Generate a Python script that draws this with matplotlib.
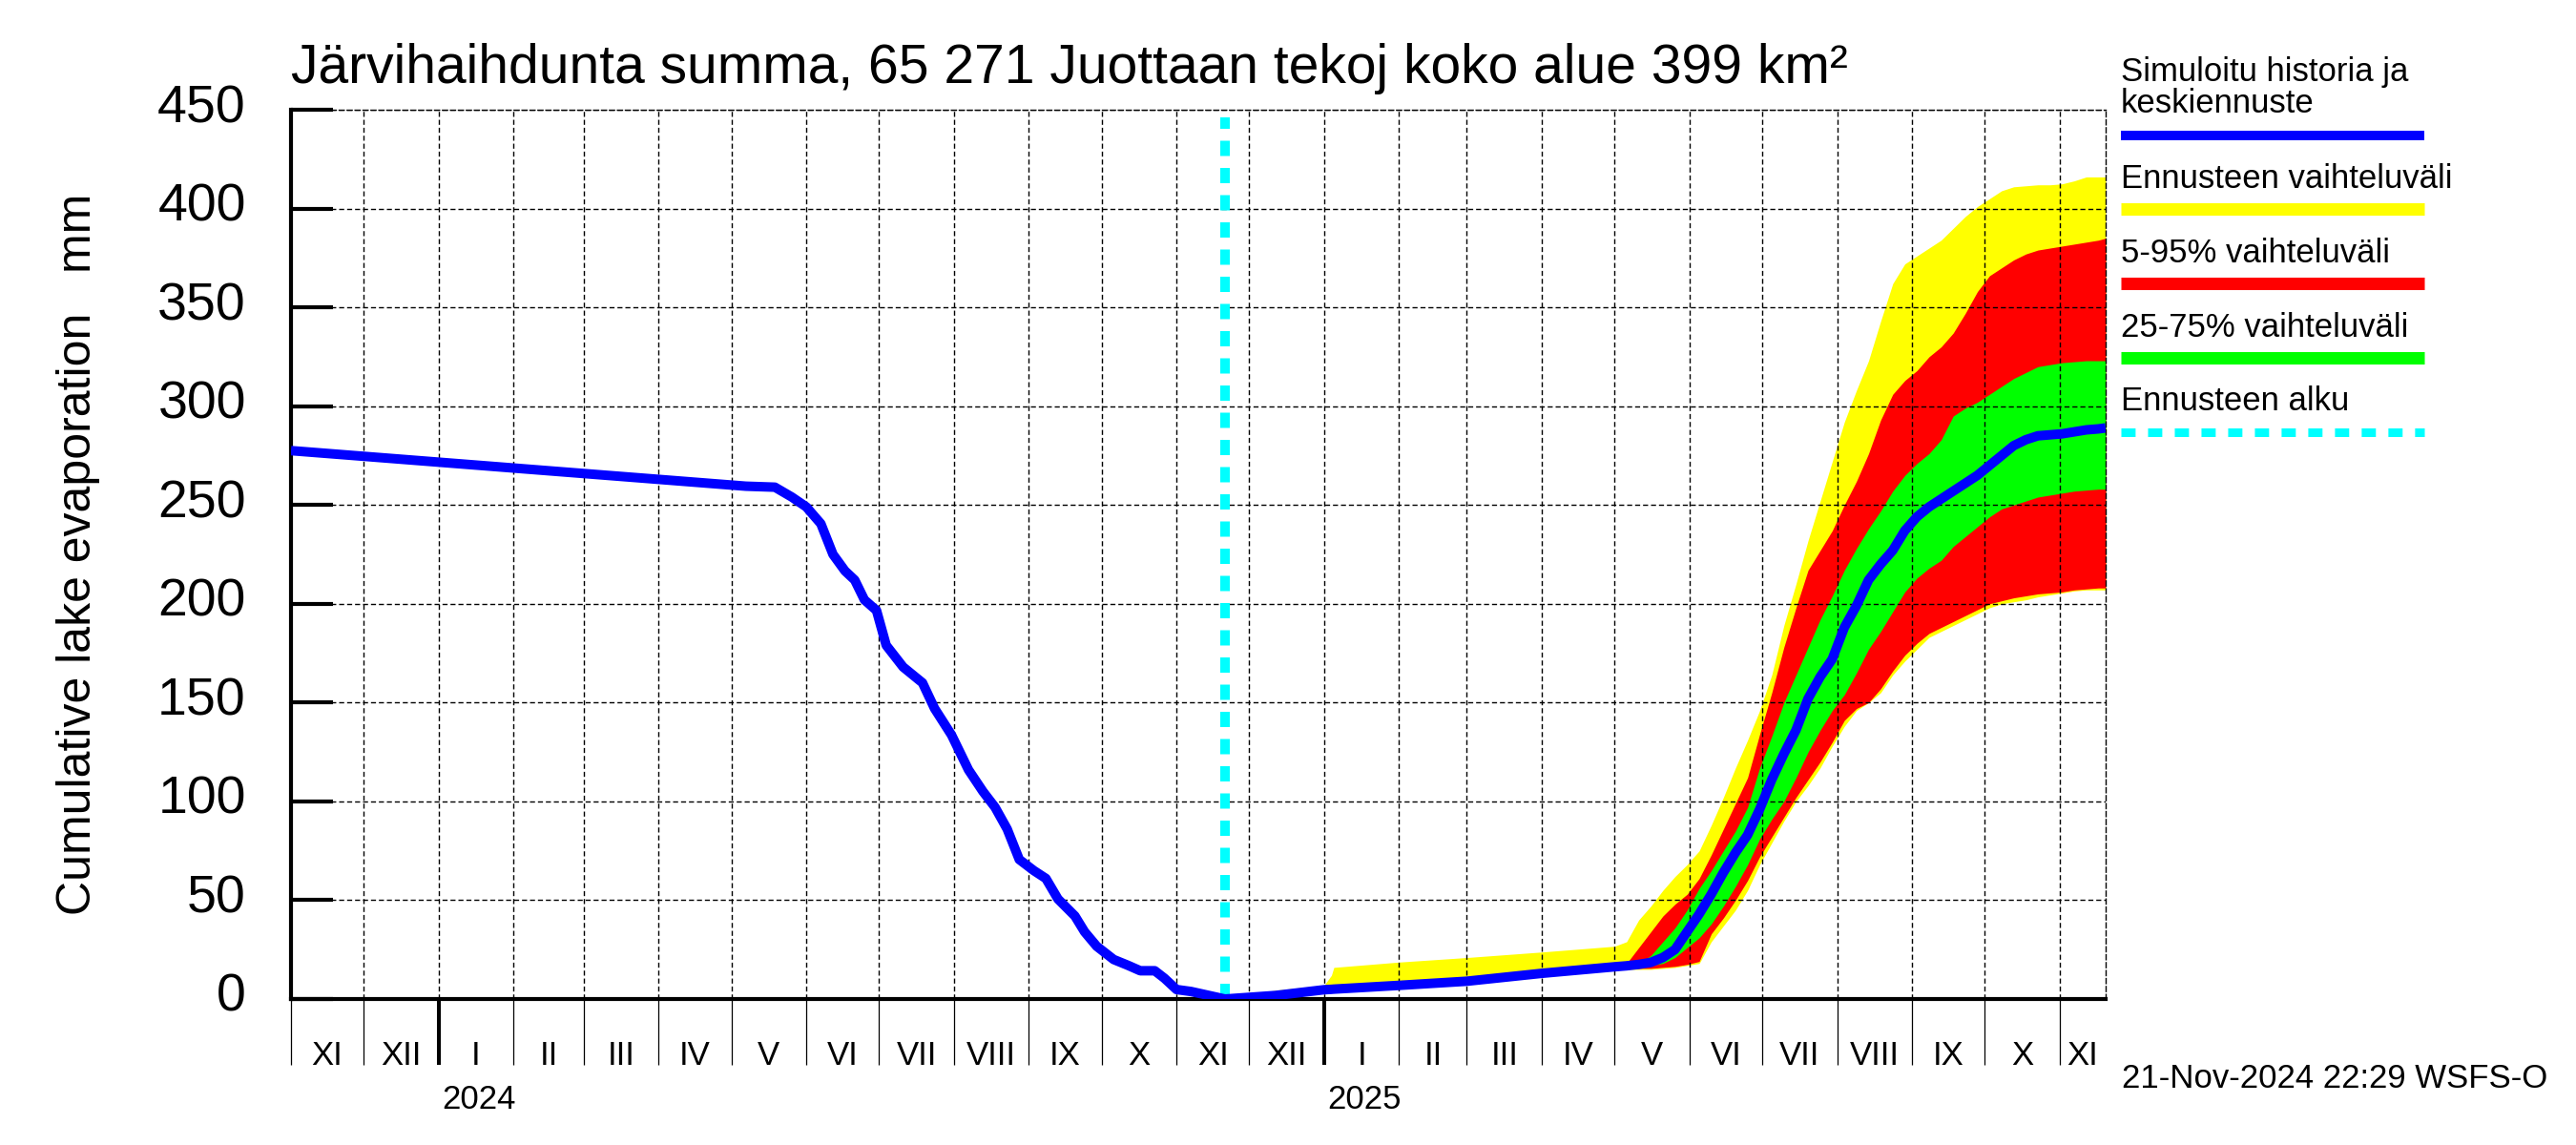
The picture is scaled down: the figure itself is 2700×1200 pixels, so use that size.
import matplotlib
matplotlib.use('Agg')
import matplotlib.pyplot as plt
import matplotlib.dates as mdates
import matplotlib.transforms as mtransforms
from matplotlib.lines import Line2D
import pandas as pd

plt.rcParams['font.family'] = ['Liberation Sans', 'DejaVu Sans']

#### texts
title = 'Järvihaihdunta summa, 65 271 Juottaan tekoj koko alue 399 km²'
ylabel = 'Cumulative lake evaporation   mm'
stamp = '21-Nov-2024 22:29 WSFS-O'
roman = ['I', 'II', 'III', 'IV', 'V', 'VI', 'VII', 'VIII', 'IX', 'X', 'XI', 'XII']
legend_labels = ['Simuloitu historia ja\nkeskiennuste', 'Ennusteen vaihteluväli',
                 '5-95% vaihteluväli', '25-75% vaihteluväli', 'Ennusteen alku']

#### time frame
x_start = pd.Timestamp('2023-11-01')
x_end = pd.Timestamp('2025-11-20')
hist_start = pd.Timestamp('2024-01-01')
fc_start = pd.Timestamp('2025-01-01')
forecast_day = pd.Timestamp('2024-11-21')

#### simulated history (days from 2024-01-01)
hist_days = [-61, 127, 139, 146, 152, 158, 163, 168, 172, 176,
             181, 185, 192, 200, 205, 212, 219, 225, 230, 235,
             240, 246, 251, 256, 263, 267, 272, 279, 285, 290,
             296, 300, 305, 311, 318, 325]
hist_vals = [277.5, 259.5, 259, 254, 249, 240.5, 225, 216.6, 212, 202,
             196.6, 179, 168, 160, 147, 133.6, 116, 105, 97, 86,
             70.6, 65, 61, 50.6, 42, 34, 26.7, 20, 17, 14.3,
             14.3, 10.5, 4.8, 3.8, 1.9, 0]

#### forecast (days from 2025-01-01)
fc_days = [-41, -20, 0, 3, 4, 31, 59, 90, 120,
           125, 130, 135, 140, 145, 150, 155, 160, 165, 170,
           175, 180, 185, 190, 195, 200, 205, 210, 215, 220,
           225, 230, 235, 240, 245, 250, 255, 260, 265, 270,
           275, 280, 285, 290, 295, 300, 305, 310, 315, 320, 323]
fc_median = [0, 1.8, 4.7, 4.9, 5.0, 6.9, 9.0, 13.0, 16.3,
             16.8, 17.5, 18.5, 21, 25, 34, 43, 53, 64, 74,
             83, 96, 111, 124, 136, 152, 163, 172, 188, 199,
             212, 220, 227, 237, 244, 249, 253, 257, 261, 265,
             270, 275, 280, 283, 285, 285.5, 286, 287, 288, 288.5, 289]
yellow_hi = [0, 4.5, 7, 12, 16, 18.7, 21, 23.8, 26.7,
             29, 40, 47, 55, 62, 68, 75, 88, 102, 117,
             131, 146, 164, 189, 210, 232, 252, 272, 292, 308,
             323, 343, 362, 372, 376, 380, 384, 390, 396, 401,
             405, 409, 411, 411.5, 412, 412, 412.5, 414, 416, 416, 416]
yellow_lo = [0, 1.8, 4.7, 4.9, 5.0, 6.9, 9.0, 13.0, 16.3,
             15, 15, 15, 15.5, 16, 17, 18, 29, 37, 45,
             55, 68, 79, 90, 100, 108, 117, 128, 138, 146,
             150, 155, 164, 171, 177, 183, 186, 189, 192, 195,
             198, 200, 201, 202, 203.5, 204.5, 205.5, 206.5, 207, 207, 207]
red_hi = [0, 1.8, 4.7, 4.9, 5.0, 6.9, 9.0, 13.0, 16.3,
          18, 26, 34, 42, 48, 53, 61, 73, 86, 99,
          112, 134, 155, 178, 198, 217, 227, 237, 250, 262,
          276, 293, 306, 313, 318, 325, 330, 337, 347, 358,
          366, 370, 374, 377, 379, 380, 381, 382, 383, 384, 385]
red_lo = [0, 1.8, 4.7, 4.9, 5.0, 6.9, 9.0, 13.0, 16.3,
          15.5, 15.5, 15.5, 16, 16.5, 17.5, 19, 33, 41, 50,
          60, 72, 82, 92, 102, 111, 120, 130, 141, 147,
          150, 157, 166, 174, 180, 185, 188, 191, 194, 197,
          200, 201.5, 203, 204, 205, 205.5, 206, 207, 207.5, 208, 208]
green_hi = [0, 1.8, 4.7, 4.9, 5.0, 6.9, 9.0, 13.0, 16.3,
            17, 18, 22, 29, 36, 45, 56, 65, 75, 85,
            97, 117, 133, 150, 164, 178, 192, 204, 217, 228,
            238, 247, 257, 265, 271, 276, 283, 295, 299, 302,
            306, 310, 314, 317, 320, 321, 322, 322.5, 323, 323, 323]
green_lo = [0, 1.8, 4.7, 4.9, 5.0, 6.9, 9.0, 13.0, 16.3,
            16, 16.5, 17, 18, 21, 26, 31, 38, 47, 57,
            68, 81, 91, 100, 112, 125, 136, 146, 154, 165,
            177, 186, 196, 206, 213, 218, 222, 229, 234, 239,
            244, 248, 250, 252, 254, 255, 256, 257, 257.5, 258, 258]

BLUE, YELLOW, RED, GREEN, CYAN = '#0000ff', '#ffff00', '#ff0000', '#00ff00', '#00ffff'

hist_x = hist_start + pd.to_timedelta(hist_days, unit='D')
fc_x = fc_start + pd.to_timedelta(fc_days, unit='D')

W, H = 2700, 1200
fig = plt.figure(figsize=(27, 12), dpi=100)
ax = fig.add_axes([305 / W, 1 - 1047 / H, (2207 - 305) / W, (1047 - 115) / H])

ax.fill_between(fc_x, yellow_lo, yellow_hi, color=YELLOW, lw=0, zorder=1)
ax.fill_between(fc_x, red_lo, red_hi, color=RED, lw=0, zorder=1)
ax.fill_between(fc_x, green_lo, green_hi, color=GREEN, lw=0, zorder=1)

ax.plot([forecast_day, forecast_day], [0, 446], color=CYAN, lw=7.2,
        dashes=(1.6, 1.25), dash_capstyle='butt', zorder=2)
ax.plot(hist_x, hist_vals, color=BLUE, lw=7.2, zorder=3, solid_capstyle='butt')
ax.plot(fc_x, fc_median, color=BLUE, lw=7.2, zorder=3, solid_capstyle='butt')

ax.set_xlim(x_start, x_end)
ax.set_ylim(0, 450)

# x axis: year boundaries thick, month boundaries thin, labels as text
month_starts = pd.date_range(x_start, x_end, freq='MS')
year_starts = pd.date_range(x_start, x_end, freq='YS')
ax.set_xticks(year_starts)
ax.set_xticks(month_starts, minor=True)
ax.tick_params(axis='x', which='both', direction='out', length=50, labelbottom=False)
ax.tick_params(axis='x', which='major', width=2.9)
ax.tick_params(axis='x', which='minor', width=0.9)

edges = list(month_starts) + [x_end]
for a, b in zip(edges[:-1], edges[1:]):
    mid = mdates.date2num(a) + (mdates.date2num(b) - mdates.date2num(a)) / 2
    ax.text(mid, -0.064, roman[a.month - 1], transform=ax.get_xaxis_transform(),
            ha='center', va='center', fontsize=25)
for y in year_starts:
    ax.text(mdates.date2num(y) + 1.5, -0.1127, str(y.year), transform=ax.get_xaxis_transform(),
            ha='left', va='center', fontsize=25)

ax.set_yticks(range(0, 451, 50))
ax.tick_params(axis='y', direction='in', length=32, width=3, labelsize=40, pad=34)
# labels sit a little above their tick in the original
lift = mtransforms.ScaledTranslation(0, 7 / 100, fig.dpi_scale_trans)
for t in ax.yaxis.get_major_ticks():
    t.label1.set_transform(t.label1.get_transform() + lift)

ax.grid(True, which='both', color='black', linestyle=(0, (3.8, 2.2)), linewidth=1.0)
for s in ['left', 'bottom']:
    ax.spines[s].set_linewidth(3)
for s in ['top', 'right']:
    ax.spines[s].set_linestyle((0, (3.8, 2.2)))
    ax.spines[s].set_linewidth(1.0)

fig.text(82 / W, 0.516, ylabel, rotation=90, ha='center', va='center', fontsize=36)
fig.text(305 / W, 1 - 87 / H, title, ha='left', va='baseline', fontsize=41)
fig.text(2224 / W, 1 - 1140 / H, stamp, ha='left', va='baseline', fontsize=25)

# legend drawn by hand: text above a short line
legend_colors = [BLUE, YELLOW, RED, GREEN, CYAN]
legend_lw = [7.2, 9.4, 9.4, 9.4, 6.5]
line_y = [142, 219, 297, 375, 453]
text_y = [118, 197, 275, 353, 430]  # baseline of the last text line
x0, x1 = 2223 / W, 2541 / W
for lab, col, lw, ly, ty in zip(legend_labels, legend_colors, legend_lw, line_y, text_y):
    fig.text(x0, 1 - ty / H, lab, ha='left', va='baseline', fontsize=25, linespacing=1.0)
    kw = dict(dashes=(1.65, 1.45), dash_capstyle='butt') if col == CYAN else dict(solid_capstyle='butt')
    fig.add_artist(Line2D([x0, x1], [1 - ly / H, 1 - ly / H], transform=fig.transFigure,
                          color=col, lw=lw, **kw))

fig.savefig('out.png', dpi=100)
